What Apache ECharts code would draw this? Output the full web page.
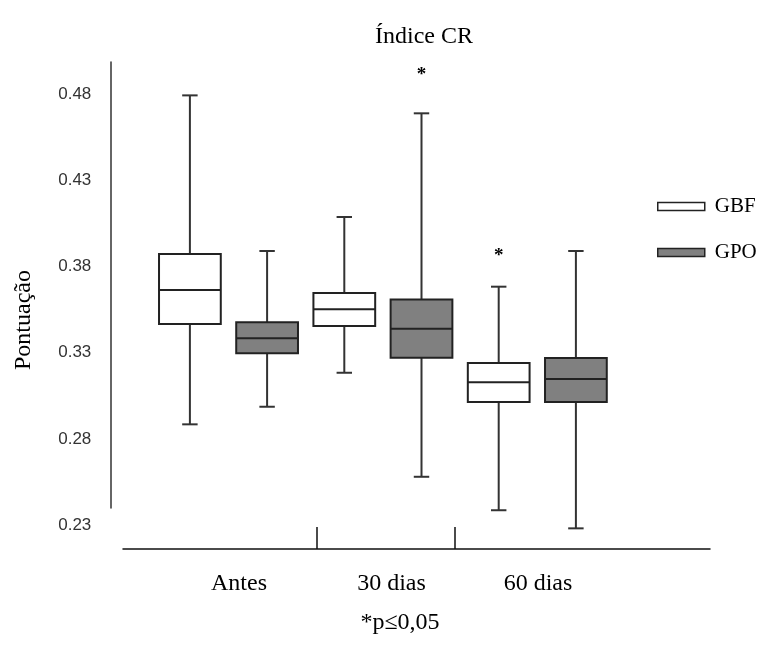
<!DOCTYPE html>
<html>
<head>
<meta charset="utf-8">
<script src="https://cdn.jsdelivr.net/npm/echarts@6/dist/echarts.min.js"></script>
<style>
  html, body { margin: 0; padding: 0; background: #fff; }
  #chart { width: 766px; height: 660px; }
</style>
</head>
<body>
<div id="chart"></div>
<script>
// ---------------- data ----------------
const categories = ['Antes', '30 dias', '60 dias'];
const groups = ['GBF', 'GPO'];
// [min, Q1, median, Q3, max] per category
const gbfStats = [
  [0.2885, 0.3467, 0.3664, 0.3872, 0.4792],
  [0.3184, 0.3455, 0.3552, 0.3646, 0.4087],
  [0.2387, 0.3014, 0.3129, 0.3241, 0.3683]
];
const gpoStats = [
  [0.2987, 0.3297, 0.3384, 0.3477, 0.3890],
  [0.2581, 0.3271, 0.3439, 0.3608, 0.4688],
  [0.2282, 0.3014, 0.3148, 0.3270, 0.3890]
];
// significance marks
const starCategory = [1, 2];
const starGroup = [1, 0];
const starValue = [0.492, 0.387];
const yTicks = [0.23, 0.28, 0.33, 0.38, 0.43, 0.48];
const footnote = '*p\u22640,05';

// ---------------- styling constants ----------------
const SERIF = "'Liberation Serif', 'Times New Roman', serif";
const SANS = "'Liberation Sans', Arial, sans-serif";
const fills = ['#ffffff', '#808080'];
const STROKE = '#222222';
const WHISKER = '#333333';
const BOX_RATIO = 0.8;
const CAP_RATIO = 0.2;

// slot layout: each category has one slot per group
const slots = [];
categories.forEach((c, ci) => groups.forEach((g, gi) => slots.push(c + ' ' + g)));
const slotOf = (ci, gi) => ci * groups.length + gi;

function toSeriesData(stats, gi) {
  return stats.map((s, ci) => [slotOf(ci, gi)].concat(s));
}

function renderBox(params, api) {
  const x = api.value(0);
  const band = api.size([1, 0])[0];
  const half = band * BOX_RATIO / 2;
  const capHalf = band * CAP_RATIO / 2;
  const pMin = api.coord([x, api.value(1)]);
  const pQ1 = api.coord([x, api.value(2)]);
  const pMed = api.coord([x, api.value(3)]);
  const pQ3 = api.coord([x, api.value(4)]);
  const pMax = api.coord([x, api.value(5)]);
  const cx = pMed[0];
  const lineStyle = { stroke: WHISKER, lineWidth: 2 };
  return {
    type: 'group',
    children: [
      { type: 'line', shape: { x1: cx, y1: pMin[1], x2: cx, y2: pMax[1] }, style: lineStyle },
      { type: 'line', shape: { x1: cx - capHalf, y1: pMin[1], x2: cx + capHalf, y2: pMin[1] }, style: lineStyle },
      { type: 'line', shape: { x1: cx - capHalf, y1: pMax[1], x2: cx + capHalf, y2: pMax[1] }, style: lineStyle },
      { type: 'rect', shape: { x: cx - half, y: pQ3[1], width: half * 2, height: pQ1[1] - pQ3[1] },
        style: { fill: api.visual('color'), stroke: STROKE, lineWidth: 2 } },
      { type: 'line', shape: { x1: cx - half, y1: pMed[1], x2: cx + half, y2: pMed[1] },
        style: { stroke: STROKE, lineWidth: 2 } }
    ]
  };
}

function renderStar(params, api) {
  const p = api.coord([api.value(0), api.value(1)]);
  return {
    type: 'text',
    x: p[0], y: p[1] + 2,
    style: { text: '*', fill: '#000', font: 'bold 19px ' + SERIF, align: 'center', verticalAlign: 'middle' }
  };
}

const starData = starValue.map((v, i) => [slotOf(starCategory[i], starGroup[i]), v]);

// bottom axis decoration (in a separate grid, units = pixels along axis)
const bottomAxisLength = 587;
const bottomTicks = [193.5, 331.5];
const bottomLabelPos = [116, 268.5, 415];

const option = {
  animation: false,
  backgroundColor: '#ffffff',
  title: {
    text: 'Índice CR',
    left: 370, top: 20,
    textStyle: { fontFamily: SERIF, fontSize: 24, fontWeight: 'normal', color: '#000' }
  },
  legend: {
    orient: 'vertical',
    left: 652, top: 191,
    itemWidth: 47, itemHeight: 8, itemGap: 25,
    icon: 'rect',
    selectedMode: false,
    textStyle: { fontFamily: SERIF, fontSize: 21, color: '#000', padding: [0, 0, 0, 5] },
    data: groups.map((g, gi) => ({
      name: g,
      itemStyle: { color: fills[gi], borderColor: STROKE, borderWidth: 1.5 }
    }))
  },
  grid: [
    { left: 151.3, right: 151.5, top: 59.5, bottom: 134.75 },
    { left: 123, right: 56, top: 500, bottom: 111 },
    { left: 111, width: 1, top: 62, bottom: 152 }
  ],
  xAxis: [
    { gridIndex: 0, type: 'category', data: slots, show: false },
    {
      gridIndex: 1, type: 'value', min: 0, max: bottomAxisLength,
      axisLine: { show: true, lineStyle: { color: '#111', width: 1.5 } },
      axisTick: { show: true, inside: true, length: 22, customValues: bottomTicks,
                  lineStyle: { color: '#111', width: 1.5 } },
      axisLabel: {
        show: true, customValues: bottomLabelPos, margin: 23,
        fontFamily: SERIF, fontSize: 24, color: '#000',
        formatter: (v) => { const i = bottomLabelPos.indexOf(v); return i >= 0 ? categories[i] : ''; }
      },
      splitLine: { show: false }
    },
    { gridIndex: 2, type: 'value', show: false, min: 0, max: 1 }
  ],
  yAxis: [
    {
      gridIndex: 0, type: 'value', min: 0.23, max: 0.50, offset: 40,
      axisLine: { show: false }, axisTick: { show: false }, splitLine: { show: false },
      axisLabel: {
        customValues: yTicks, margin: 20,
        fontFamily: SANS, fontSize: 17, color: '#333',
        formatter: (v) => v.toFixed(2)
      }
    },
    { gridIndex: 1, type: 'value', show: false, min: 0, max: 1 },
    {
      gridIndex: 2, type: 'value', min: 0, max: 1,
      axisLine: { show: true, lineStyle: { color: '#333', width: 1.5 } },
      axisTick: { show: false }, axisLabel: { show: false }, splitLine: { show: false }
    }
  ],
  graphic: [
    {
      type: 'text', x: 24, y: 320, rotation: Math.PI / 2,
      style: { text: 'Pontuação', font: '24px ' + SERIF, fill: '#000', align: 'center', verticalAlign: 'middle' }
    },
    {
      type: 'text', x: 400, y: 623,
      style: { text: footnote, font: '24px ' + SERIF, fill: '#000', align: 'center', verticalAlign: 'middle' }
    }
  ],
  series: [
    {
      name: groups[0], type: 'custom', xAxisIndex: 0, yAxisIndex: 0,
      itemStyle: { color: fills[0] },
      encode: { x: 0, y: [1, 2, 3, 4, 5] },
      renderItem: renderBox, data: toSeriesData(gbfStats, 0)
    },
    {
      name: groups[1], type: 'custom', xAxisIndex: 0, yAxisIndex: 0,
      itemStyle: { color: fills[1] },
      encode: { x: 0, y: [1, 2, 3, 4, 5] },
      renderItem: renderBox, data: toSeriesData(gpoStats, 1)
    },
    {
      name: 'sig', type: 'custom', xAxisIndex: 0, yAxisIndex: 0,
      encode: { x: 0, y: 1 },
      renderItem: renderStar, data: starData
    }
  ]
};

const chart = echarts.init(document.getElementById('chart'), null, { renderer: 'canvas' });
chart.setOption(option);
</script>
</body>
</html>
